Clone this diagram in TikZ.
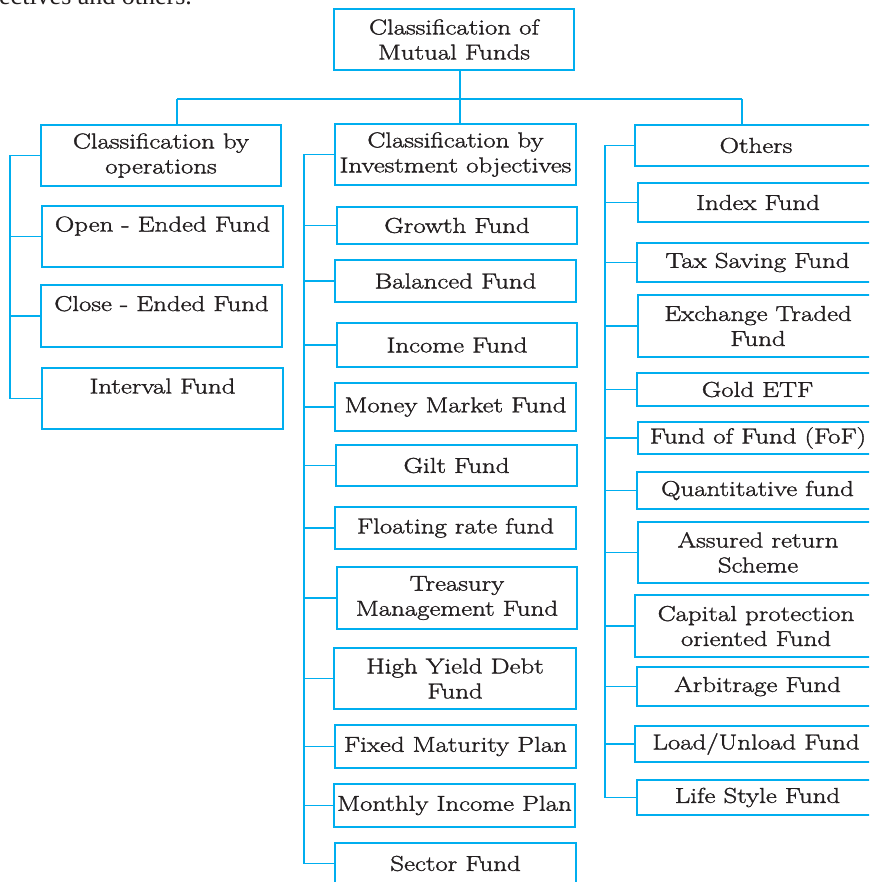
\documentclass[tikz,border=0pt]{standalone}
\usepackage{fontspec}
\usetikzlibrary{calc}
\newfontfamily\timesf{Liberation Serif}
\newfontfamily\boxf{Latin Modern Roman}[FakeStretch=1.25, FakeBold=1.6]
\definecolor{fund}{RGB}{0,174,239}
\definecolor{ink}{RGB}{35,31,32}
\newcommand\fb[6]{\node[box, minimum width={#4-#2}, minimum height={#5-#3}] (#1) at ({(#2+#4)/2},{(#3+#5)/2}) {#6};}
\begin{document}
\begin{tikzpicture}[x=1pt,y=-1pt,
 box/.style={draw=fund, line width=1.5pt, inner sep=0pt, align=center, text=ink, font=\boxf\fontsize{21.5}{25}\selectfont},
 wire/.style={draw=fund, line width=1.5pt}]
\useasboundingbox (0,0) rectangle (869,882);
\clip (0,0) rectangle (869,882);
\node[anchor=base west, inner sep=0pt, font=\timesf\fontsize{26}{30}\selectfont, text=ink] (frag) at (-1,5) {ectives and others.};
% top
\fb{top}{334}{9}{574}{70}{Classification of\\Mutual Funds}
% column 1
\fb{h1}{41}{125}{281}{186}{Classification by\\operations}
\fb{a1}{42}{206}{283}{267}{Open - Ended Fund\\\mbox{}}
\fb{a2}{41}{285}{282}{347}{Close - Ended Fund\\\mbox{}}
\fb{a3}{42}{368}{283}{429}{Interval Fund\\\mbox{}}
% column 2
\fb{h2}{335}{124}{576}{185}{Classification by\\Investment objectives}
\fb{b1}{337}{207}{577}{244}{Growth Fund}
\fb{b2}{335}{260}{576}{302}{Balanced Fund}
\fb{b3}{337}{323}{577}{367}{Income Fund}
\fb{b4}{335}{383}{576}{431}{Money Market Fund}
\fb{b5}{336}{445}{577}{486}{Gilt Fund}
\fb{b6}{335}{507}{576}{549}{Floating rate fund}
\fb{b7}{337}{567}{577}{629}{Treasury\\Management Fund}
\fb{b8}{334}{648}{576}{709}{High Yield Debt\\Fund}
\fb{b9}{335}{725}{576}{768}{Fixed Maturity Plan}
\fb{b10}{334}{784}{575}{827}{Monthly Income Plan}
\fb{b11}{335}{843}{576}{884}{Sector Fund}
% column 3
\fb{h3}{635}{125}{877}{166}{Others}
\fb{c1}{638}{183}{878}{222}{Index Fund}
\fb{c2}{637}{243}{878}{282}{Tax Saving Fund}
\fb{c3}{638}{295}{878}{357}{Exchange Traded\\Fund}
\fb{c4}{637}{373}{878}{406}{Gold ETF}
\fb{c5}{638}{422}{878}{454}{Fund of Fund (FoF)}
\fb{c6}{637}{472}{878}{509}{Quantitative fund}
\fb{c7}{638}{522}{878}{583}{Assured return\\Scheme}
\fb{c8}{635}{595}{877}{657}{Capital protection\\oriented Fund}
\fb{c9}{637}{667}{878}{706}{Arbitrage Fund}
\fb{c10}{635}{726}{877}{762}{Load/Unload Fund}
\fb{c11}{637}{780}{878}{815}{Life Style Fund}
% bus
\coordinate (j1) at (177,99);
\coordinate (j2) at (460,99);
\coordinate (j3) at (742,99);
\draw[wire] (top.south -| j2) -- (j2);
\draw[wire] (j1) -- (j3);
\draw[wire] (j1) -- (h1.north -| j1);
\draw[wire] (j2) -- (h2.north -| j2);
\draw[wire] (j3) -- (h3.north -| j3);
% spines
\coordinate (s1) at (10,0);
\coordinate (s2) at (304,0);
\coordinate (s3) at (605,0);
\draw[wire] (h1.west -| s1) -- (a3.west -| s1);
\draw[wire] (h2.west -| s2) -- (b11.west -| s2);
\draw[wire] (h3.west -| s3) -- (c11.west -| s3);
\foreach \n in {h1,a1,a2,a3} \draw[wire] (\n.west -| s1) -- (\n.west);
\foreach \n in {h2,b1,b2,b3,b4,b5,b6,b7,b8,b9,b10,b11} \draw[wire] (\n.west -| s2) -- (\n.west);
\foreach \n in {h3,c1,c2,c3,c4,c5,c6,c7,c8,c9,c10,c11} \draw[wire] (\n.west -| s3) -- (\n.west);
\end{tikzpicture}
\end{document}
